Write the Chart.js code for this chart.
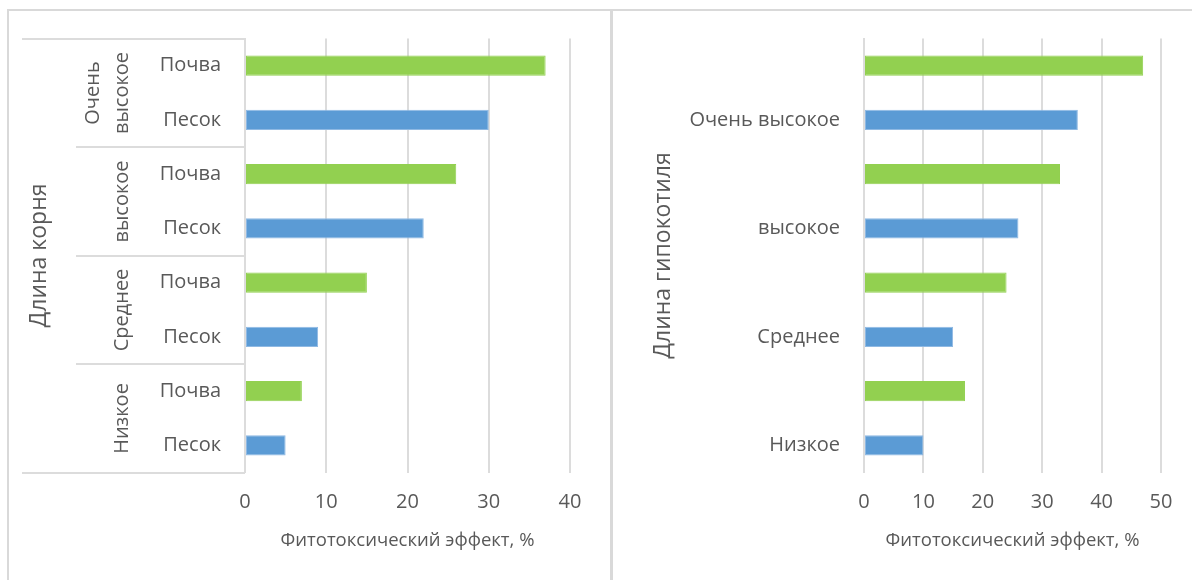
<!DOCTYPE html>
<html lang="ru">
<head>
<meta charset="utf-8">
<title>Фитотоксический эффект</title>
<script src="https://cdn.jsdelivr.net/npm/chart.js@4/dist/chart.umd.min.js"></script>
<style>
  html, body { margin: 0; padding: 0; background: #fff; width: 1192px; height: 580px; overflow: hidden; }
  .panel { position: absolute; box-sizing: border-box; background: #fff; border-top: 2px solid #D9D9D9; }
  #leftPanel { left: 7px; top: 9px; width: 603px; height: 571px; border-left: 2px solid #D9D9D9; }
  #rightPanel { left: 610px; top: 9px; width: 582px; height: 571px; border-left: 3px solid #D9D9D9; }
  canvas { display: block; }
</style>
</head>
<body>
<div class="panel" id="leftPanel"><canvas id="rootChart" width="601" height="569"></canvas></div>
<div class="panel" id="rightPanel"><canvas id="hypocotylChart" width="579" height="569"></canvas></div>
<script>
// Effect levels (top to bottom) and the two substrates within each level
const levels = ['Очень высокое', 'высокое', 'Среднее', 'Низкое'];
const substrates = ['Почва', 'Песок'];

// Phytotoxic effect, %, one value per (level, substrate) row, top to bottom
const rootEffect = [37, 30, 26, 22, 15, 9, 7, 5];
const hypocotylEffect = [47, 36, 33, 26, 24, 15, 17, 10];

// Value axis tick labels
const rootTicks = [0, 10, 20, 30, 40];
const hypocotylTicks = [0, 10, 20, 30, 40, 50];

const substrateColors = { 'Почва': '#92D050', 'Песок': '#5B9BD5' };
const substrateBorders = { 'Почва': '#92D050', 'Песок': '#8FB9E3' };

const textColor = '#595959';
const gridColor = '#DCDCDC';
const fontFamily = '"Open Sans", "DejaVu Sans", sans-serif';

const rows = levels.flatMap(level => substrates.map(sub => ({ level, sub })));

// Two-level category axis: group separators and rotated level names
const groupAxisPlugin = {
  id: 'groupAxis',
  afterDraw(chart, args, opts) {
    if (!opts || !opts.enabled) return;
    const { ctx, chartArea, scales: { y } } = chart;
    const per = substrates.length;
    const axisX = chartArea.left;
    const bounds = [];
    ctx.save();
    ctx.strokeStyle = gridColor;
    ctx.lineWidth = 2;
    for (let g = 0; g <= levels.length; g++) {
      let yy;
      if (g === 0) yy = chartArea.top;
      else if (g === levels.length) yy = chartArea.bottom;
      else yy = (y.getPixelForValue(g * per - 1) + y.getPixelForValue(g * per)) / 2;
      yy = Math.round(yy);
      bounds.push(yy);
      const x0 = (g === 0 || g === levels.length) ? opts.outerLeft : opts.innerLeft;
      ctx.beginPath();
      ctx.moveTo(x0, yy);
      ctx.lineTo(axisX, yy);
      ctx.stroke();
    }
    ctx.font = '20px ' + fontFamily;
    ctx.fillStyle = textColor;
    ctx.textAlign = 'center';
    ctx.textBaseline = 'middle';
    levels.forEach((lvl, g) => {
      const top = bounds[g], bottom = bounds[g + 1];
      const mid = (top + bottom) / 2;
      const lines = ctx.measureText(lvl).width > (bottom - top) - 10 ? lvl.split(' ') : [lvl];
      lines.forEach((line, i) => {
        const x = opts.labelX - (lines.length - 1 - i) * opts.lineGap;
        ctx.save();
        ctx.translate(x, mid);
        ctx.rotate(-Math.PI / 2);
        ctx.fillText(line, 0, 0);
        ctx.restore();
      });
    });
    ctx.restore();
  }
};

function makeChart(canvasId, cfg) {
  return new Chart(document.getElementById(canvasId), {
    type: 'bar',
    data: {
      labels: cfg.labels,
      datasets: [{
        data: cfg.values,
        backgroundColor: rows.map(r => substrateColors[r.sub]),
        borderColor: rows.map(r => substrateBorders[r.sub]),
        borderWidth: 1,
        borderSkipped: false,
        categoryPercentage: 1,
        barPercentage: 0.37
      }]
    },
    plugins: [groupAxisPlugin],
    options: {
      indexAxis: 'y',
      responsive: false,
      animation: false,
      events: [],
      layout: { padding: { top: 27.5, right: cfg.padRight, bottom: 0, left: 0 } },
      plugins: {
        legend: { display: false },
        tooltip: { enabled: false },
        groupAxis: cfg.groupAxis
      },
      scales: {
        x: {
          min: cfg.ticks[0],
          max: cfg.ticks[cfg.ticks.length - 1],
          afterBuildTicks: s => { s.ticks = cfg.ticks.map(v => ({ value: v })); },
          afterFit: s => { s.height = 107.5; s.paddingLeft = 0; s.paddingRight = 0; },
          grid: { color: gridColor, lineWidth: 2, drawTicks: false },
          border: { display: false },
          ticks: { color: textColor, font: { family: fontFamily, size: 20 }, padding: 18 },
          title: {
            display: true,
            text: 'Фитотоксический эффект, %',
            color: textColor,
            font: { family: fontFamily, size: 18.5 },
            padding: { top: 0, bottom: 28 }
          }
        },
        y: {
          afterFit: s => { s.width = cfg.axisWidth; s.paddingTop = 0; s.paddingBottom = 0; },
          grid: { display: false, drawTicks: false },
          border: { display: true, color: gridColor, width: 2 },
          ticks: { color: textColor, font: { family: fontFamily, size: 20 }, padding: 24, autoSkip: false },
          title: {
            display: true,
            text: cfg.axisTitle,
            color: textColor,
            font: { family: fontFamily, size: 23 },
            padding: { top: cfg.titleOffset, bottom: 0 }
          }
        }
      }
    }
  });
}

function draw() {
  makeChart('rootChart', {
    labels: rows.map(r => r.sub),
    values: rootEffect,
    ticks: rootTicks,
    axisWidth: 236,
    padRight: 40,
    axisTitle: 'Длина корня',
    titleOffset: 16.5,
    groupAxis: { enabled: true, outerLeft: 13, innerLeft: 67, labelX: 113, lineGap: 29 }
  });
  makeChart('hypocotylChart', {
    labels: rows.map(r => r.sub === 'Песок' ? r.level : ''),
    values: hypocotylEffect,
    ticks: hypocotylTicks,
    axisWidth: 251,
    padRight: 31,
    axisTitle: 'Длина гипокотиля',
    titleOffset: 37,
    groupAxis: { enabled: false }
  });
}

if (document.fonts && document.fonts.load) {
  document.fonts.load('20px "Open Sans"').then(draw, draw);
} else {
  draw();
}
</script>
</body>
</html>
